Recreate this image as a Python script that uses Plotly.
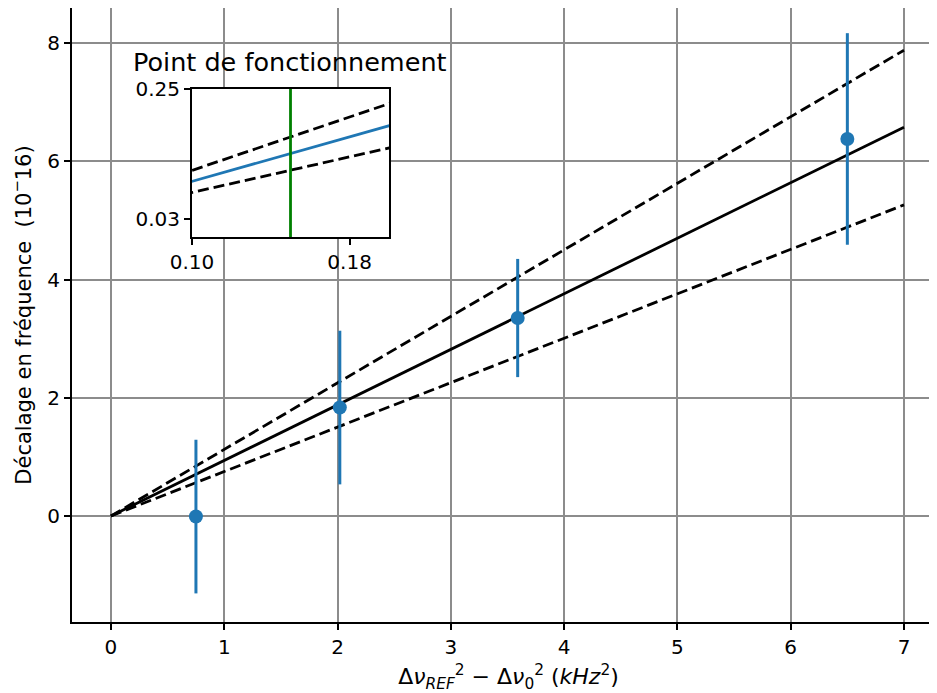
import plotly.graph_objects as go

# ---- data ----
x_points = [0.75, 2.02, 3.59, 6.50]
y_points = [-0.01, 1.835, 3.35, 6.38]
y_errors = [1.30, 1.30, 1.00, 1.79]

fit_x = [0, 7]
slope_fit = 0.940
slope_upper = 1.126
slope_lower = 0.752

inset_x = [0.0, 0.3]
operating_point = 0.15

main_xticks = [0, 1, 2, 3, 4, 5, 6, 7]
main_yticks = [0, 2, 4, 6, 8]
inset_xticks = [0.10, 0.18]
inset_xticklabels = ["0.10", "0.18"]
inset_yticks = [0.03, 0.25]
inset_yticklabels = ["0.03", "0.25"]

BLUE = "#1f77b4"
FONT = "DejaVu Sans"
DASH = "11px,5px"

fig = go.Figure()

# main lines
fig.add_trace(go.Scatter(x=fit_x, y=[slope_fit * v for v in fit_x], mode="lines",
                         line=dict(color="black", width=2.8), showlegend=False))
fig.add_trace(go.Scatter(x=fit_x, y=[slope_upper * v for v in fit_x], mode="lines",
                         line=dict(color="black", width=2.8, dash=DASH), showlegend=False))
fig.add_trace(go.Scatter(x=fit_x, y=[slope_lower * v for v in fit_x], mode="lines",
                         line=dict(color="black", width=2.8, dash=DASH), showlegend=False))
# data points with error bars
fig.add_trace(go.Scatter(x=x_points, y=y_points, mode="markers",
                         marker=dict(color=BLUE, size=14),
                         error_y=dict(type="data", array=y_errors, color=BLUE, thickness=3, width=0),
                         showlegend=False))

# inset
fig.add_trace(go.Scatter(x=inset_x, y=[slope_upper * v for v in inset_x], mode="lines",
                         line=dict(color="black", width=2.8, dash=DASH),
                         xaxis="x2", yaxis="y2", showlegend=False))
fig.add_trace(go.Scatter(x=inset_x, y=[slope_lower * v for v in inset_x], mode="lines",
                         line=dict(color="black", width=2.8, dash=DASH),
                         xaxis="x2", yaxis="y2", showlegend=False))
fig.add_trace(go.Scatter(x=inset_x, y=[slope_fit * v for v in inset_x], mode="lines",
                         line=dict(color=BLUE, width=2.8),
                         xaxis="x2", yaxis="y2", showlegend=False))
fig.add_trace(go.Scatter(x=[operating_point, operating_point], y=[-1, 1], mode="lines",
                         line=dict(color="green", width=2.8),
                         xaxis="x2", yaxis="y2", showlegend=False))

tickfont = dict(family=FONT, size=20, color="black")
common = dict(ticks="outside", ticklen=6, tickwidth=1.5, tickcolor="black", showline=True,
              linecolor="black", linewidth=2, zeroline=False, tickfont=tickfont, automargin=False)

INSET_X = [0.1375, 0.3631]
INSET_Y = [0.6270, 0.8681]

fig.update_layout(
    width=937, height=693,
    margin=dict(l=64, r=0, t=0, b=79),
    paper_bgcolor="white", plot_bgcolor="white",
    font=dict(family=FONT, color="black"),
    xaxis=dict(range=[-0.344, 7.362], tickvals=main_xticks, mirror=True,
               showgrid=True, gridcolor="#8c8c8c", gridwidth=1.8,
               title=dict(text="Δ<i>ν</i><sub><i>REF</i></sub><sup>2</sup> − Δ<i>ν</i><sub>0</sub><sup>2</sup> (<i>kHz</i><sup>2</sup>)",
                          font=dict(family=FONT, size=22), standoff=11),
               **common),
    yaxis=dict(range=[-1.794, 8.596], tickvals=main_yticks, mirror=False,
               showgrid=True, gridcolor="#8c8c8c", gridwidth=1.8,
               title=dict(text="Décalage en fréquence  (10<sup>−</sup>16)",
                          font=dict(family=FONT, size=21), standoff=13),
               **common),
    xaxis2=dict(domain=INSET_X, anchor="y2", range=[0.10, 0.20],
                tickvals=inset_xticks, ticktext=inset_xticklabels, mirror=True, showgrid=False,
                **common),
    yaxis2=dict(domain=INSET_Y, anchor="x2", range=[0.0, 0.25],
                tickvals=inset_yticks, ticktext=inset_yticklabels, mirror=True, showgrid=False,
                **common),
    shapes=[dict(type="rect", xref="paper", yref="paper", x0=INSET_X[0], x1=INSET_X[1],
                 y0=INSET_Y[0], y1=INSET_Y[1], fillcolor="white", line=dict(width=0), layer="below")],
    annotations=[dict(text="Point de fonctionnement", xref="paper", yref="paper",
                      x=0.2497, y=0.912, xanchor="center", yanchor="middle", showarrow=False,
                      font=dict(family=FONT, size=25.5, color="black"))],
)

fig.write_html("out.html")
